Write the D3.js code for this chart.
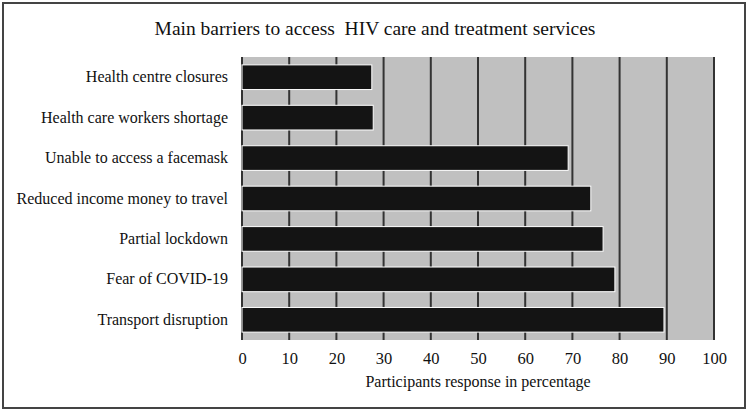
<!DOCTYPE html>
<html><head><meta charset="utf-8">
<script src="https://cdn.jsdelivr.net/npm/d3@7"></script>
<style>html,body{margin:0;padding:0;background:#fff;}</style>
</head><body>
<svg id="c" width="750" height="417"></svg>
<script>
const categories = ["Health centre closures","Health care workers shortage","Unable to access a facemask","Reduced income money to travel","Partial lockdown","Fear of COVID-19","Transport disruption"];
const values = [27.5, 27.8, 69.1, 73.9, 76.5, 79.0, 89.4];
const tickValues = [0,10,20,30,40,50,60,70,80,90,100];
const title = "Main barriers to access\u00a0 HIV care and treatment services";
const xTitle = "Participants response in percentage";

const svg = d3.select("#c");
const font = "'Liberation Serif','Times New Roman',serif";
svg.append("rect").attr("x",3).attr("y",3).attr("width",742).attr("height",405)
  .attr("fill","#fff").attr("stroke","#444").attr("stroke-width",2);

const m = {left:242, right:714, top:57, bottom:340};
const x = d3.scaleLinear().domain([0,100]).range([m.left,m.right]);
const y = d3.scaleBand().domain(categories).range([m.top,m.bottom]).paddingInner(0.39).paddingOuter(0.195);

svg.append("rect").attr("x",m.left).attr("y",m.top).attr("width",m.right-m.left).attr("height",m.bottom-m.top).attr("fill","#c0c0c0");

svg.append("g").selectAll("line").data(tickValues).join("line")
  .attr("x1",d=>x(d)).attr("x2",d=>x(d)).attr("y1",m.top).attr("y2",m.bottom)
  .attr("stroke","#333").attr("stroke-width",2);

svg.append("g").selectAll("rect").data(values).join("rect")
  .attr("x",x(0)).attr("y",(d,i)=>y(categories[i]))
  .attr("width",d=>x(d)-x(0)).attr("height",y.bandwidth())
  .attr("fill","#141414").attr("stroke","#fff").attr("stroke-width",1);

const xa = svg.append("g").attr("transform",`translate(0,${m.bottom})`)
  .call(d3.axisBottom(x).tickValues(tickValues).tickSize(0).tickPadding(12));
xa.select(".domain").remove();
xa.selectAll("text").attr("font-family",font).attr("font-size",16.5).attr("fill","#111");

const ya = svg.append("g").attr("transform",`translate(${m.left},0)`)
  .call(d3.axisLeft(y).tickSize(0).tickPadding(14));
ya.select(".domain").remove();
ya.selectAll("text").attr("font-family",font).attr("font-size",16).attr("fill","#111");

svg.append("text").attr("x",375).attr("y",35).attr("text-anchor","middle")
  .attr("font-family",font).attr("font-size",19.5).attr("fill","#111").text(title);
svg.append("text").attr("x",(m.left+m.right)/2).attr("y",387).attr("text-anchor","middle")
  .attr("font-family",font).attr("font-size",16).attr("fill","#111").text(xTitle);
</script>
</body></html>
